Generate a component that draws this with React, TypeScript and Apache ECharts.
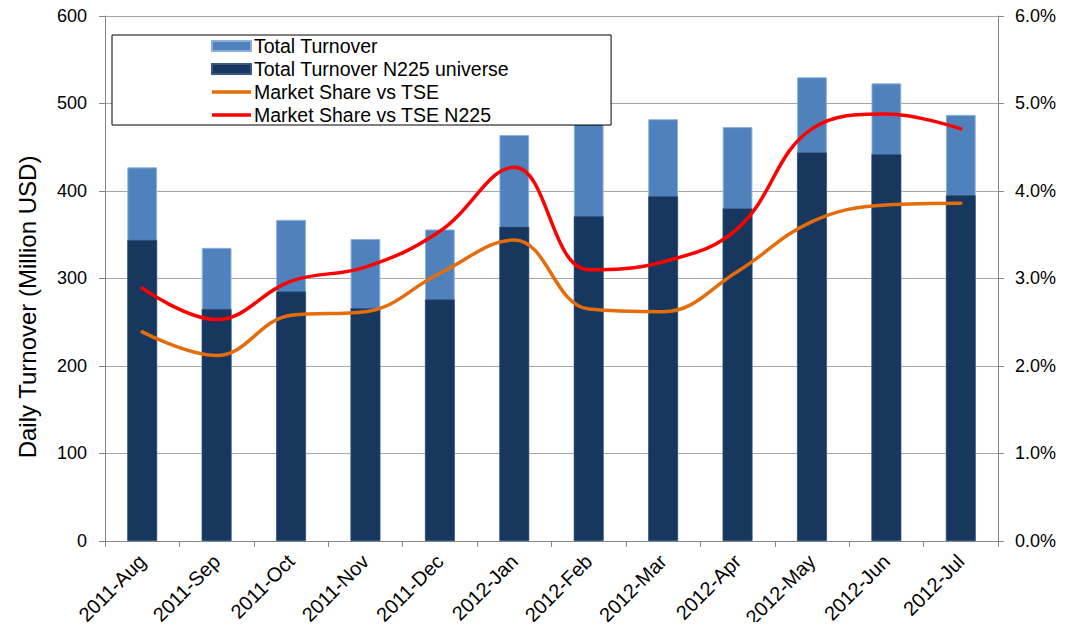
import React, { useEffect, useRef } from "react";
import * as echarts from "echarts";

const categories = [
  "2011-Aug", "2011-Sep", "2011-Oct", "2011-Nov", "2011-Dec", "2012-Jan",
  "2012-Feb", "2012-Mar", "2012-Apr", "2012-May", "2012-Jun", "2012-Jul",
];
const totalTurnover = [427, 335, 367, 345, 356, 464, 492, 482, 473, 530, 523, 487];
const n225Turnover = [344, 265, 285, 266, 276, 359, 371, 394, 380, 444, 442, 395];
const shareTSE = [2.39, 2.12, 2.58, 2.62, 3.06, 3.44, 2.65, 2.62, 3.08, 3.65, 3.84, 3.86];
const shareN225 = [2.89, 2.53, 2.97, 3.13, 3.54, 4.27, 3.1, 3.19, 3.57, 4.71, 4.88, 4.71];
const yAxisTitle = "Daily Turnover (Million USD)";

const FONT = "Liberation Sans, Arial, sans-serif";
const LINE_ICON = "path://M0,0 L40,0 L40,3.6 L0,3.6 Z";

export default function App() {
  const ref = useRef<HTMLDivElement>(null);
  useEffect(() => {
    if (!ref.current) return;
    const chart = echarts.init(ref.current, null, { renderer: "svg" });
    chart.setOption({
      animation: false,
      backgroundColor: "#ffffff",
      textStyle: { fontFamily: FONT },
      grid: { left: 105, right: 77, top: 16, bottom: 89 },
      graphic: [
        {
          type: "text",
          x: 27,
          y: 307,
          rotation: Math.PI / 2,
          style: {
            text: yAxisTitle,
            fontSize: 24,
            fontFamily: FONT,
            fill: "#000",
            align: "center",
            verticalAlign: "middle",
          },
        },
      ],
      legend: {
        orient: "vertical",
        left: 112,
        top: 35,
        padding: [1, 102, 0, 99],
        itemGap: 3,
        itemWidth: 39,
        itemHeight: 10,
        backgroundColor: "#ffffff",
        borderColor: "#000000",
        borderWidth: 1,
        z: 10,
        textStyle: {
          fontSize: 19.5,
          lineHeight: 20,
          color: "#000",
          fontFamily: FONT,
          padding: [0, 0, 0, -2],
        },
        data: [
          { name: "Total Turnover", icon: "rect" },
          { name: "Total Turnover N225 universe", icon: "rect" },
          { name: "Market Share vs TSE", icon: LINE_ICON },
          { name: "Market Share vs TSE N225", icon: LINE_ICON },
        ],
      },
      xAxis: {
        type: "category",
        data: categories,
        axisLine: { lineStyle: { color: "#868686" } },
        axisTick: { show: true, length: 6, lineStyle: { color: "#868686" } },
        axisLabel: { rotate: 45, fontSize: 20, color: "#000", fontFamily: FONT, margin: 17 },
      },
      yAxis: [
        {
          type: "value",
          min: 0,
          max: 600,
          interval: 100,
          axisLine: { show: true, lineStyle: { color: "#868686" } },
          axisTick: { show: true, length: 6, lineStyle: { color: "#868686" } },
          axisLabel: { fontSize: 18, color: "#000", fontFamily: FONT, margin: 18 },
          splitLine: { lineStyle: { color: "#a6a6a6", width: 1 } },
        },
        {
          type: "value",
          min: 0,
          max: 6,
          interval: 1,
          position: "right",
          axisLine: { show: true, lineStyle: { color: "#868686" } },
          axisTick: { show: true, length: 6, lineStyle: { color: "#868686" } },
          axisLabel: {
            fontSize: 18,
            color: "#000",
            fontFamily: FONT,
            margin: 17,
            formatter: (v: number) => v.toFixed(1) + "%",
          },
          splitLine: { show: false },
        },
      ],
      series: [
        {
          name: "Total Turnover",
          type: "bar",
          data: totalTurnover,
          barWidth: "40%",
          barGap: "-100%",
          itemStyle: { color: "#4F81BD", borderColor: "#8eb0db", borderWidth: 1 },
        },
        {
          name: "Total Turnover N225 universe",
          type: "bar",
          data: n225Turnover,
          barWidth: "40%",
          barGap: "-100%",
          itemStyle: { color: "#17375E", borderColor: "#3a5a85", borderWidth: 0.5 },
        },
        {
          name: "Market Share vs TSE",
          type: "line",
          yAxisIndex: 1,
          data: shareTSE,
          smooth: 0.4,
          symbol: "none",
          lineStyle: { color: "#E46C0A", width: 3.5, cap: "round" },
          itemStyle: { color: "#E46C0A" },
          z: 3,
        },
        {
          name: "Market Share vs TSE N225",
          type: "line",
          yAxisIndex: 1,
          data: shareN225,
          smooth: 0.4,
          symbol: "none",
          lineStyle: { color: "#FF0000", width: 3.5, cap: "round" },
          itemStyle: { color: "#FF0000" },
          z: 3,
        },
      ],
    });
    return () => chart.dispose();
  }, []);
  return <div ref={ref} style={{ width: 1075, height: 630, margin: -8 }} />;
}
